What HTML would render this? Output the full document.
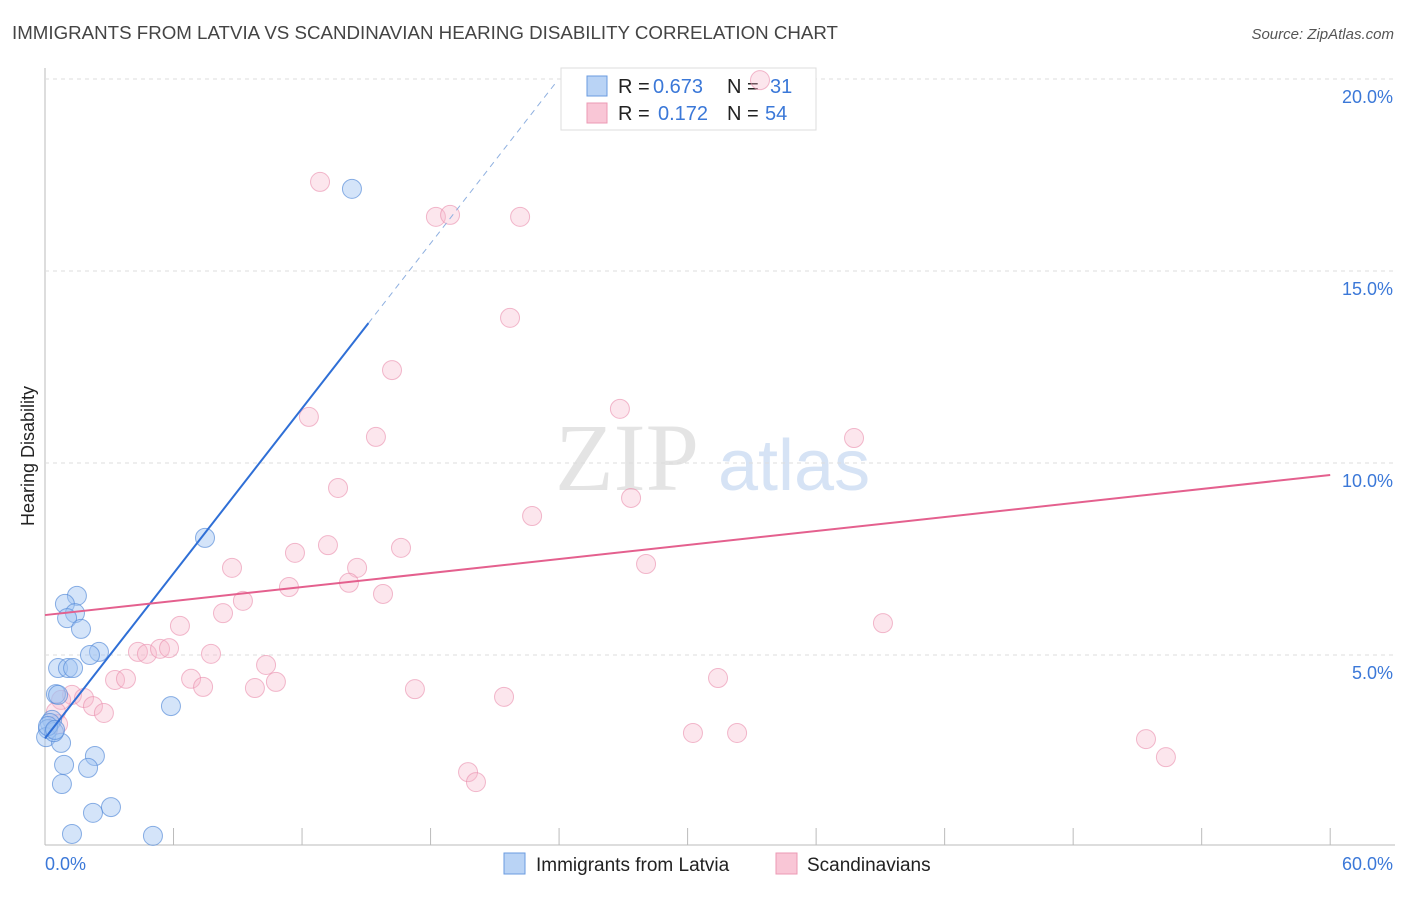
<!DOCTYPE html>
<html><head><meta charset="utf-8"><style>
body{margin:0;background:#fff;font-family:"Liberation Sans",sans-serif}
</style></head><body>
<svg width="1406" height="892" xmlns="http://www.w3.org/2000/svg" id="c">
<text x="12" y="39" font-size="18" fill="#444" textLength="826" lengthAdjust="spacingAndGlyphs">IMMIGRANTS FROM LATVIA VS SCANDINAVIAN HEARING DISABILITY CORRELATION CHART</text>
<text x="1394" y="39" font-size="15" fill="#555" font-style="italic" text-anchor="end">Source: ZipAtlas.com</text>
<text x="34" y="456" font-size="18" fill="#222" text-anchor="middle" transform="rotate(-90 34 456)">Hearing Disability</text>
<text x="555" y="490" font-size="96" fill="#e4e4e4" font-family="Liberation Serif,serif">ZIP</text>
<text x="718" y="490" font-size="72" fill="#d6e3f5">atlas</text>
<g id="grid"></g>
<g>
<rect x="561" y="68" width="255" height="62" fill="#fff" stroke="#ddd"/>
<rect x="587" y="76" width="20" height="20" fill="#b9d3f5" stroke="#6a9be0"/>
<rect x="587" y="103" width="20" height="20" fill="#f9c6d6" stroke="#ec9ab4"/>
<text x="618" y="93" font-size="20" fill="#222">R =</text>
<text x="653" y="93" font-size="20" fill="#3b78d8">0.673</text>
<text x="727" y="93" font-size="20" fill="#222">N =</text>
<text x="770" y="93" font-size="20" fill="#3b78d8">31</text>
<text x="618" y="120" font-size="20" fill="#222">R =</text>
<text x="658" y="120" font-size="20" fill="#3b78d8">0.172</text>
<text x="727" y="120" font-size="20" fill="#222">N =</text>
<text x="765" y="120" font-size="20" fill="#3b78d8">54</text>
</g>
<g id="marks"></g>
<g>
<rect x="504" y="853" width="21" height="21" fill="#b9d3f5" stroke="#6a9be0"/>
<text x="536" y="871" font-size="19" fill="#222">Immigrants from Latvia</text>
<rect x="776" y="853" width="21" height="21" fill="#f9c6d6" stroke="#ec9ab4"/>
<text x="807" y="871" font-size="19" fill="#222">Scandinavians</text>
</g>
</svg>
<script>
const xTicks=[0,6,12,18,24,30,36,42,48,54,60];
const yTicks=[5,10,15,20];
const blueX=[14.33,7.47,1.49,0.93,1.40,1.03,1.68,2.52,2.10,0.61,1.07,1.31,0.51,0.61,5.88,0.33,0.23,0.14,0.05,0.75,2.33,0.89,2.01,0.79,3.08,2.24,1.26,5.04,0.42,0.14,0.47];
const blueY=[17.14,8.05,6.54,6.33,6.09,5.96,5.68,5.08,5.00,4.66,4.66,4.66,3.98,3.96,3.67,3.31,3.23,3.07,2.86,2.71,2.37,2.14,2.06,1.64,1.04,0.89,0.34,0.29,2.99,3.15,3.05];
const pinkX=[33.38,12.84,18.25,18.91,22.18,21.71,16.20,26.84,12.32,15.45,37.77,13.68,27.36,22.74,16.62,13.21,11.67,8.73,28.06,14.57,14.19,11.39,15.78,9.24,8.31,39.12,6.30,4.34,4.76,5.37,5.79,7.75,10.32,6.82,3.27,3.78,7.38,9.80,10.78,17.27,21.43,31.42,1.26,1.82,0.75,2.24,2.75,0.51,0.61,30.25,32.31,51.40,52.33,19.75,20.12];
const pinkY=[19.97,17.32,16.41,16.46,16.41,13.78,12.42,11.41,11.20,10.68,10.65,9.35,9.09,8.62,7.79,7.86,7.66,7.27,7.37,7.27,6.88,6.77,6.59,6.41,6.09,5.83,5.76,5.08,5.03,5.16,5.18,5.03,4.74,4.38,4.35,4.38,4.17,4.14,4.30,4.11,3.91,4.40,3.96,3.88,3.83,3.67,3.49,3.52,3.20,2.97,2.97,2.81,2.34,1.95,1.69];
const blueLine=[2.83,0.716];
const pinkLine=[6.04,0.0608];
const X=v=>45+v*21.42, Y=v=>847-v*38.4;
const NS="http://www.w3.org/2000/svg";
const g=document.getElementById('grid'), m=document.getElementById('marks');
function el(t,a,p){const e=document.createElementNS(NS,t);for(const k in a)e.setAttribute(k,a[k]);p.appendChild(e);return e;}
let e=el('line',{x1:45,y1:68,x2:45,y2:845,stroke:'#bbb'},g);


e=el('line',{x1:45,y1:845,x2:1395,y2:845,stroke:'#bbb'},g);


yTicks.forEach(t=>{
 e=el('line',{x1:45,x2:1395,y1:Y(t),y2:Y(t),stroke:'#ddd','stroke-dasharray':'4,4'},g);
 
 
 e=el('text',{x:1393,y:Y(t)+24,'font-size':18,fill:'#3b78d8','text-anchor':'end'},g);e.textContent=t.toFixed(1)+'%';
 
 
});
xTicks.forEach(t=>{
 e=el('line',{x1:X(t),x2:X(t),y1:828,y2:845,stroke:'#bbb'},g);
 
 
});
e=el('text',{x:45,y:870,'font-size':18,fill:'#3b78d8'},g);e.textContent=xTicks[0].toFixed(1)+'%';


e=el('text',{x:1393,y:870,'font-size':18,fill:'#3b78d8','text-anchor':'end'},g);e.textContent=xTicks[xTicks.length-1].toFixed(1)+'%';


pinkX.forEach((x,i)=>{
 e=el('circle',{cx:X(x),cy:Y(pinkY[i]),r:9.5,fill:'rgba(246,182,204,0.35)',stroke:'rgba(234,140,172,0.6)','stroke-width':1},m);
 
 
});
blueX.forEach((x,i)=>{
 e=el('circle',{cx:X(x),cy:Y(blueY[i]),r:9.5,fill:'rgba(160,196,242,0.45)',stroke:'rgba(80,135,215,0.65)','stroke-width':1},m);
 
 
});
const bx1=15.1,bx2=23.8;
e=el('line',{x1:X(0),y1:Y(blueLine[0]),x2:X(bx1),y2:Y(blueLine[0]+blueLine[1]*bx1),stroke:'#2f6fd6','stroke-width':2},m);


e=el('line',{x1:X(bx1),y1:Y(blueLine[0]+blueLine[1]*bx1),x2:X(bx2),y2:Y(blueLine[0]+blueLine[1]*bx2),stroke:'#8fb0e0','stroke-width':1,'stroke-dasharray':'6,5'},m);


e=el('line',{x1:X(0),y1:Y(pinkLine[0]),x2:X(60),y2:Y(pinkLine[0]+pinkLine[1]*60),stroke:'#e4608e','stroke-width':2},m);


</script>
</body></html>
